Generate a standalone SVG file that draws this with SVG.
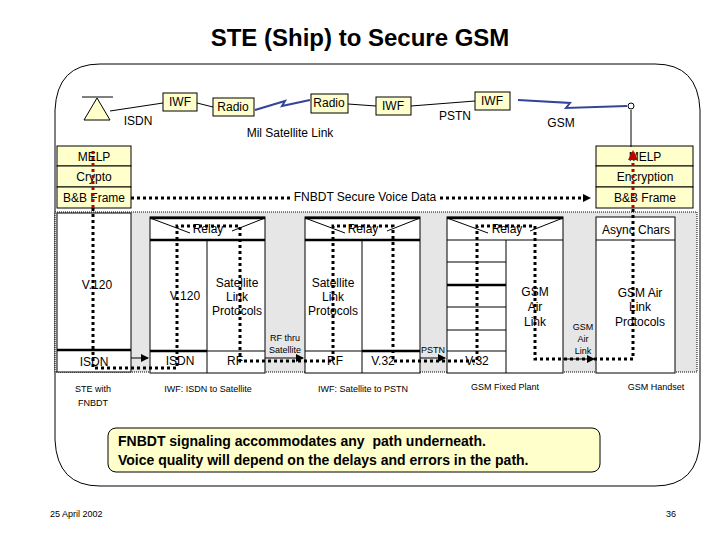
<svg xmlns="http://www.w3.org/2000/svg" width="720" height="540" viewBox="0 0 720 540">
<defs>
<style>
text{font-family:"Liberation Sans",Arial,sans-serif;fill:#000}
.s{font-size:11px}.m{font-size:12px}.xs{font-size:9px}
.y{fill:#FFFFCC;stroke:#000;stroke-width:1}
.w{fill:#fff;stroke:#000;stroke-width:1}
.ln{stroke:#000;stroke-width:1;fill:none}
.th{stroke:#000;stroke-width:2.5;fill:none}
.dot{stroke:#000;stroke-width:3;stroke-dasharray:3 3;fill:none}
.red{stroke:#C00000;stroke-width:3;stroke-dasharray:3 3;fill:none}
.bolt{stroke:#334499;stroke-width:2;fill:none}
</style>
<marker id="ah" markerWidth="8" markerHeight="8" refX="7" refY="4" orient="auto" markerUnits="userSpaceOnUse"><path d="M0,0L8,4L0,8z" fill="#000"/></marker>
<marker id="ahr" markerWidth="10" markerHeight="10" refX="8" refY="5" orient="auto" markerUnits="userSpaceOnUse"><path d="M0,0L10,5L0,10z" fill="#C00000"/></marker>
</defs>
<rect width="720" height="540" fill="#fff"/>
<text x="360" y="46" text-anchor="middle" font-size="24" font-weight="bold">STE (Ship) to Secure GSM</text>
<path d="M100,64 H655 Q698,64 700,110 V440 Q698,486 655,486 H100 Q57,486 55,440 V110 Q57,64 100,64 Z" fill="none" stroke="#000"/>
<rect x="55" y="212" width="642" height="160" fill="#E6E6E6" stroke="#000" stroke-dasharray="1 1"/>
<g id="top">
<path d="M84,120 L97,98 L110,120 Z" fill="#FFFFCC" stroke="#000"/>
<line class="ln" x1="82" y1="97" x2="113" y2="97"/>
<circle cx="631" cy="106" r="3" fill="#fff" stroke="#000"/>
<g id="iwf1"><rect class="y" x="163" y="93" width="34" height="18"/><text class="m" x="180" y="106" text-anchor="middle">IWF</text></g>
<g id="radio1"><rect class="y" x="213" y="98" width="41" height="18"/><text class="m" x="233" y="111" text-anchor="middle">Radio</text></g>
<g id="radio2"><rect class="y" x="311" y="94" width="37" height="19"/><text class="m" x="329" y="107" text-anchor="middle">Radio</text></g>
<g id="iwf2"><rect class="y" x="376" y="97" width="35" height="18"/><text class="m" x="393" y="110" text-anchor="middle">IWF</text></g>
<g id="iwf3"><rect class="y" x="475" y="92" width="35" height="18"/><text class="m" x="492" y="105" text-anchor="middle">IWF</text></g>
<text class="m" x="138" y="125" text-anchor="middle">ISDN</text>
<text class="m" x="290" y="137" text-anchor="middle">Mil Satellite Link</text>
<text class="m" x="455" y="120" text-anchor="middle">PSTN</text>
<text class="m" x="561" y="127" text-anchor="middle">GSM</text>
</g>
<g id="left-stack">
<rect class="y" x="57" y="146" width="74" height="20"/><text class="m" x="94" y="161" text-anchor="middle">MELP</text>
<rect class="y" x="57" y="166" width="74" height="21"/><text class="m" x="94" y="181" text-anchor="middle">Crypto</text>
<rect class="y" x="57" y="187" width="74" height="21"/><text class="m" x="94" y="202" text-anchor="middle">B&amp;B Frame</text>
</g>
<g id="right-stack">
<rect class="y" x="596" y="146" width="97" height="20"/><text class="m" x="645" y="161" text-anchor="middle">MELP</text>
<rect class="y" x="596" y="166" width="97" height="21"/><text class="m" x="645" y="181" text-anchor="middle">Encryption</text>
<rect class="y" x="596" y="187" width="97" height="21"/><text class="m" x="645" y="202" text-anchor="middle">B&amp;B Frame</text>
</g>
<g id="ste">
<rect class="w" x="57" y="213" width="74" height="159"/>
<line class="th" x1="57" y1="350" x2="131" y2="350"/>
<text class="m" x="97" y="289" text-anchor="middle">V.120</text>
<text class="m" x="94" y="366" text-anchor="middle">ISDN</text>
<text class="xs" x="93" y="392" text-anchor="middle">STE with</text>
<text class="xs" x="93" y="406" text-anchor="middle">FNBDT</text>
</g>
<g id="iwf-isdn-sat">
<rect class="w" x="150" y="217" width="115" height="156"/>
<line class="th" x1="150" y1="218" x2="265" y2="218"/>
<line class="th" x1="150" y1="240" x2="265" y2="240"/>
<line class="ln" x1="150" y1="218" x2="190" y2="233"/><line class="ln" x1="265" y1="218" x2="232" y2="231"/>
<line class="ln" x1="207" y1="240" x2="207" y2="373"/>
<line class="th" x1="150" y1="351" x2="207" y2="351"/><line class="ln" x1="207" y1="351" x2="265" y2="351"/>
<text class="m" x="208" y="233" text-anchor="middle">Relay</text>
<text class="m" x="185" y="300" text-anchor="middle">V.120</text>
<text class="m" x="237" y="287" text-anchor="middle">Satellite</text>
<text class="m" x="237" y="301" text-anchor="middle">Link</text>
<text class="m" x="237" y="315" text-anchor="middle">Protocols</text>
<text class="m" x="180" y="365" text-anchor="middle">ISDN</text>
<text class="m" x="235" y="365" text-anchor="middle">RF</text>
<text class="xs" x="208" y="392" text-anchor="middle">IWF: ISDN to Satellite</text>
</g>
<g id="iwf-sat-pstn">
<rect class="w" x="305" y="217" width="115" height="156"/>
<line class="th" x1="305" y1="218" x2="420" y2="218"/>
<line class="th" x1="305" y1="240" x2="420" y2="240"/>
<line class="ln" x1="305" y1="218" x2="345" y2="233"/><line class="ln" x1="420" y1="218" x2="387" y2="231"/>
<line class="ln" x1="362" y1="240" x2="362" y2="373"/>
<line class="ln" x1="305" y1="351" x2="362" y2="351"/><line class="th" x1="362" y1="351" x2="420" y2="351"/>
<text class="m" x="363" y="233" text-anchor="middle">Relay</text>
<text class="m" x="333" y="287" text-anchor="middle">Satellite</text>
<text class="m" x="333" y="301" text-anchor="middle">Link</text>
<text class="m" x="333" y="315" text-anchor="middle">Protocols</text>
<text class="m" x="335" y="365" text-anchor="middle">RF</text>
<text class="m" x="383" y="365" text-anchor="middle">V.32</text>
<text class="xs" x="363" y="392" text-anchor="middle">IWF: Satellite to PSTN</text>
</g>
<g id="gsm-fixed">
<rect class="w" x="447" y="217" width="116" height="156"/>
<line class="th" x1="447" y1="218" x2="563" y2="218"/>
<line class="ln" x1="447" y1="240" x2="563" y2="240"/>
<line class="ln" x1="447" y1="218" x2="488" y2="233"/><line class="ln" x1="563" y1="218" x2="530" y2="231"/>
<line class="ln" x1="506" y1="240" x2="506" y2="373"/>
<line class="ln" x1="447" y1="262" x2="506" y2="262"/>
<line class="th" x1="447" y1="285" x2="506" y2="285"/>
<line class="ln" x1="447" y1="307" x2="506" y2="307"/>
<line class="ln" x1="447" y1="330" x2="506" y2="330"/>
<line class="ln" x1="447" y1="351" x2="506" y2="351"/>
<text class="m" x="507" y="233" text-anchor="middle">Relay</text>
<text class="m" x="535" y="296" text-anchor="middle">GSM</text>
<text class="m" x="535" y="311" text-anchor="middle">Air</text>
<text class="m" x="535" y="326" text-anchor="middle">Link</text>
<text class="m" x="477" y="365" text-anchor="middle">V.32</text>
<text class="xs" x="505" y="390" text-anchor="middle">GSM Fixed Plant</text>
</g>
<g id="gsm-handset">
<rect class="w" x="596" y="217" width="79" height="156"/>
<line class="ln" x1="596" y1="240" x2="675" y2="240"/>
<text class="m" x="636" y="234" text-anchor="middle">Async Chars</text>
<text class="m" x="640" y="297" text-anchor="middle">GSM Air</text>
<text class="m" x="640" y="311" text-anchor="middle">Link</text>
<text class="m" x="640" y="326" text-anchor="middle">Protocols</text>
<text class="xs" x="656" y="390" text-anchor="middle">GSM Handset</text>
</g>
<g id="connectors">
<line class="ln" x1="110" y1="111" x2="163" y2="103"/>
<line class="ln" x1="197" y1="103" x2="213" y2="107"/>
<line class="ln" x1="348" y1="104" x2="376" y2="106"/>
<line class="ln" x1="411" y1="106" x2="475" y2="101"/>
<path class="bolt" d="M255,110 L285,101 L282,106 L310,100"/>
<path class="bolt" d="M518,100 L570,103 L566,108 L627,106"/>
<line class="ln" x1="631" y1="110" x2="631" y2="147"/>
<path class="dot" d="M131,198 H290 M440,198 H590" marker-end="url(#ah)"/>
<path class="red" d="M93,208 V150"/>
<path class="red" d="M633,208 V152" marker-end="url(#ahr)"/>
<path class="dot" d="M93,208 V368 H177 V226 H240 V361 H333 V226 H393 V361 H477 V226 H535 V359 H633 V208"/>
<line class="ln" x1="131" y1="358" x2="148" y2="358" marker-end="url(#ah)" stroke-width="2"/>
<line class="ln" x1="265" y1="358" x2="303" y2="358" marker-end="url(#ah)" stroke-width="2"/>
<line class="ln" x1="420" y1="358" x2="445" y2="358" marker-end="url(#ah)" stroke-width="2"/>
<line class="ln" x1="563" y1="359" x2="594" y2="359" marker-end="url(#ah)" stroke-width="2"/>
</g>
<text class="m" x="365" y="201" text-anchor="middle">FNBDT Secure Voice Data</text>
<text class="xs" x="285" y="341" text-anchor="middle">RF thru</text>
<text class="xs" x="285" y="353" text-anchor="middle">Satellite</text>
<text class="xs" x="433" y="353" text-anchor="middle">PSTN</text>
<text class="xs" x="583" y="330" text-anchor="middle">GSM</text>
<text class="xs" x="583" y="342" text-anchor="middle">Air</text>
<text class="xs" x="583" y="354" text-anchor="middle">Link</text>
<g id="note">
<rect x="108" y="428" width="492" height="44" rx="8" fill="#FFFFCC" stroke="#000"/>
<text x="118" y="446" font-size="14" font-weight="bold" style="white-space:pre">FNBDT signaling accommodates any  path underneath.</text>
<text x="118" y="465" font-size="14" font-weight="bold">Voice quality will depend on the delays and errors in the path.</text>
</g>
<text class="xs" x="50" y="517">25 April 2002</text>
<text class="xs" x="676" y="517" text-anchor="end">36</text>
</svg>
